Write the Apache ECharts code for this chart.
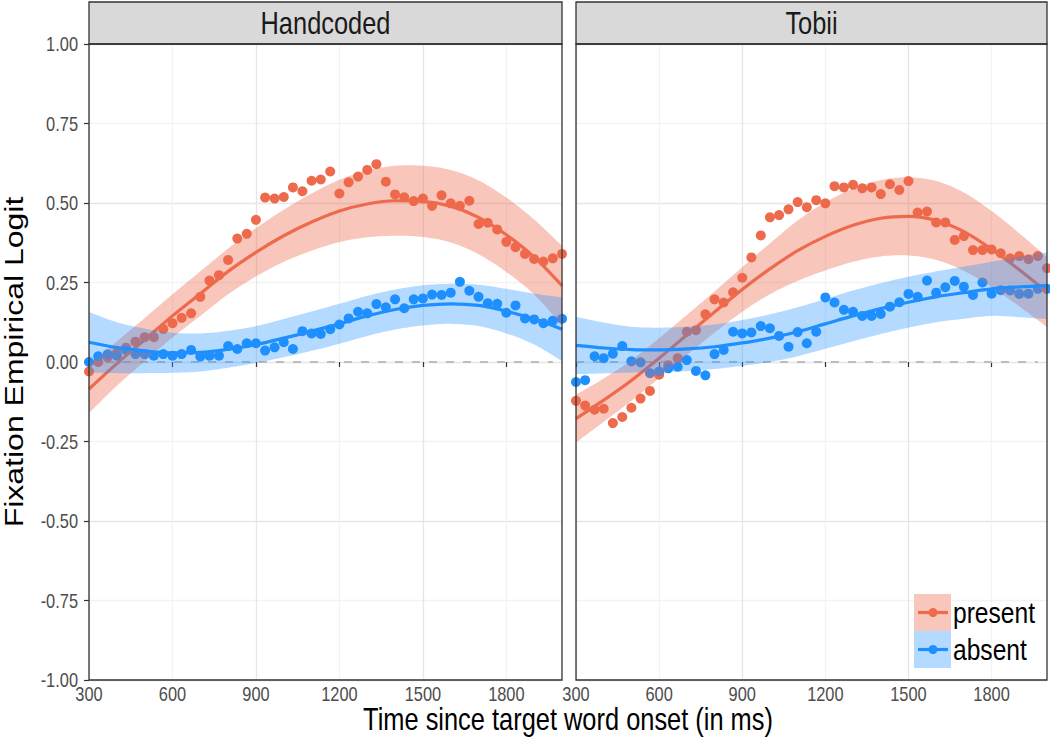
<!DOCTYPE html>
<html>
<head>
<meta charset="utf-8">
<script src="https://cdn.jsdelivr.net/npm/echarts@6/dist/echarts.min.js"></script>
<style>
html,body{margin:0;padding:0;background:#fff;}
#chart{width:1050px;height:743px;}
</style>
</head>
<body>
<div id="chart"></div>
<script>
// ---------------- data ----------------
const panels = ['Handcoded', 'Tobii'];
const groups = ['present', 'absent'];
const xTicks = [300, 600, 900, 1200, 1500, 1800];
const yTicks = [-1, -0.75, -0.5, -0.25, 0, 0.25, 0.5, 0.75, 1];

const xTime = [300, 333, 367, 400, 433, 467, 500, 533, 567, 600, 633, 667, 700, 733, 767, 800, 833, 867, 900, 933, 967, 1000,
  1033, 1067, 1100, 1133, 1167, 1200, 1233, 1267, 1300, 1333, 1367, 1400, 1433, 1467, 1500, 1533, 1567, 1600,
  1633, 1667, 1700, 1733, 1767, 1800, 1833, 1867, 1900, 1933, 1967, 2000];

const presentHand = [-0.03, 0.0, 0.015, 0.028, 0.045, 0.064, 0.078, 0.078, 0.104, 0.122,
  0.139, 0.153, 0.205, 0.256, 0.273, 0.321, 0.388, 0.403, 0.447, 0.517,
  0.514, 0.519, 0.549, 0.537, 0.57, 0.574, 0.599, 0.53, 0.565, 0.583,
  0.604, 0.622, 0.567, 0.527, 0.518, 0.506, 0.514, 0.491, 0.524, 0.499,
  0.491, 0.507, 0.434, 0.438, 0.417, 0.378, 0.361, 0.34, 0.324, 0.316,
  0.326, 0.34];
const absentHand = [0.0, 0.018, 0.024, 0.02, 0.038, 0.025, 0.025, 0.02, 0.025, 0.02,
  0.025, 0.038, 0.017, 0.02, 0.02, 0.05, 0.041, 0.059, 0.059, 0.036,
  0.046, 0.062, 0.041, 0.097, 0.09, 0.088, 0.103, 0.118, 0.137, 0.158,
  0.153, 0.182, 0.172, 0.197, 0.169, 0.197, 0.2, 0.212, 0.211, 0.218,
  0.252, 0.224, 0.205, 0.185, 0.183, 0.155, 0.178, 0.137, 0.134, 0.122,
  0.13, 0.136];
const presentTobii = [-0.122, -0.137, -0.15, -0.147, -0.192, -0.173, -0.144, -0.115, -0.091, -0.04,
  -0.01, 0.012, 0.095, 0.1, 0.15, 0.197, 0.187, 0.219, 0.265, 0.329,
  0.398, 0.455, 0.462, 0.48, 0.503, 0.487, 0.509, 0.499, 0.553, 0.549,
  0.557, 0.546, 0.549, 0.528, 0.559, 0.541, 0.569, 0.47, 0.473, 0.439,
  0.439, 0.384, 0.396, 0.352, 0.352, 0.354, 0.342, 0.326, 0.333, 0.323,
  0.333, 0.295];
const absentTobii = [-0.063, -0.057, 0.018, 0.012, 0.026, 0.05, 0.002, -0.001, -0.035, -0.03,
  -0.02, -0.015, 0.006, -0.028, -0.042, 0.025, 0.038, 0.095, 0.09, 0.093,
  0.113, 0.106, 0.082, 0.048, 0.094, 0.059, 0.095, 0.203, 0.187, 0.164,
  0.158, 0.145, 0.145, 0.151, 0.174, 0.188, 0.214, 0.205, 0.256, 0.218,
  0.235, 0.255, 0.237, 0.211, 0.25, 0.215, 0.226, 0.225, 0.214, 0.215,
  0.23, 0.23];

// smooth fits (value, lower, upper) sampled every 100 ms
const fitX = [300, 400, 500, 600, 700, 800, 900, 1000, 1100, 1200, 1300, 1400, 1500, 1600, 1700, 1800, 1900, 2000];
const presentHandFit = [-0.085, -0.005, 0.07, 0.145, 0.215, 0.285, 0.345, 0.397, 0.44, 0.475, 0.497, 0.507, 0.505, 0.49, 0.455, 0.40, 0.33, 0.24];
const presentHandLo  = [-0.16, -0.075, 0.002, 0.077, 0.145, 0.213, 0.269, 0.315, 0.35, 0.377, 0.392, 0.397, 0.393, 0.376, 0.339, 0.283, 0.212, 0.115];
const presentHandHi  = [-0.01, 0.065, 0.138, 0.213, 0.285, 0.357, 0.421, 0.479, 0.53, 0.573, 0.602, 0.617, 0.617, 0.604, 0.571, 0.517, 0.448, 0.365];
const absentHandFit  = [0.062, 0.045, 0.035, 0.029, 0.030, 0.040, 0.055, 0.075, 0.097, 0.12, 0.145, 0.165, 0.178, 0.183, 0.178, 0.16, 0.135, 0.103];
const absentHandLo   = [-0.033, -0.035, -0.035, -0.034, -0.03, -0.018, -0.003, 0.015, 0.035, 0.057, 0.082, 0.102, 0.115, 0.12, 0.113, 0.09, 0.055, 0.003];
const absentHandHi   = [0.157, 0.125, 0.105, 0.092, 0.09, 0.098, 0.113, 0.135, 0.159, 0.183, 0.208, 0.228, 0.241, 0.246, 0.243, 0.23, 0.215, 0.203];
const presentTobiiFit = [-0.178, -0.12, -0.058, 0.012, 0.085, 0.157, 0.228, 0.293, 0.35, 0.395, 0.43, 0.452, 0.458, 0.445, 0.41, 0.355, 0.29, 0.22];
const presentTobiiLo  = [-0.253, -0.188, -0.122, -0.051, 0.022, 0.092, 0.158, 0.213, 0.255, 0.288, 0.315, 0.332, 0.335, 0.321, 0.287, 0.235, 0.175, 0.11];
const presentTobiiHi  = [-0.103, -0.052, 0.006, 0.075, 0.148, 0.222, 0.298, 0.373, 0.445, 0.502, 0.545, 0.572, 0.581, 0.569, 0.533, 0.475, 0.405, 0.33];
const absentTobiiFit  = [0.052, 0.044, 0.039, 0.038, 0.041, 0.048, 0.06, 0.075, 0.095, 0.12, 0.145, 0.168, 0.188, 0.205, 0.218, 0.23, 0.236, 0.24];
const absentTobiiLo   = [-0.038, -0.036, -0.033, -0.032, -0.029, -0.022, -0.012, 0.0, 0.018, 0.042, 0.065, 0.088, 0.108, 0.125, 0.136, 0.145, 0.141, 0.135];
const absentTobiiHi   = [0.142, 0.124, 0.111, 0.108, 0.111, 0.118, 0.132, 0.15, 0.172, 0.198, 0.225, 0.248, 0.268, 0.285, 0.3, 0.315, 0.331, 0.345];

const refLineX = [300, 1967];
const refLineY = [0, 0];

// ---------------- styling ----------------
const FONT = "'Liberation Sans', Arial, Helvetica, sans-serif";
const SQUEEZE = 0.82;
const RED = '#EE6A4C', BLUE = '#1E8FFF';
const RED_BAND = 'rgba(238,106,76,0.38)', BLUE_BAND = 'rgba(30,143,255,0.33)';
const grids = [
  {left: 89, top: 44, width: 473, height: 636},
  {left: 576, top: 44, width: 471, height: 636}
];

const chart = echarts.init(document.getElementById('chart'), null, {renderer: 'svg'});

function xAxisFor(i) {
  return {
    type: 'value', gridIndex: i, min: 300, max: 2000, interval: 150,
    axisLine: {show: false},
    axisTick: {show: true, length: 5, customValues: xTicks, lineStyle: {color: '#333333', width: 1.2}},
    axisLabel: {show: false},
    splitLine: {show: true, lineStyle: {color: ['#E6E6E6', '#F3F3F3'], width: 1.3}}
  };
}
function yAxisFor(i) {
  return {
    type: 'value', gridIndex: i, min: -1, max: 1, interval: 0.125,
    axisLine: {show: false},
    axisTick: {show: i === 0, length: 5, customValues: yTicks, lineStyle: {color: '#333333', width: 1.2}},
    axisLabel: {show: false},
    splitLine: {show: true, lineStyle: {color: ['#E6E6E6', '#F3F3F3'], width: 1.3}}
  };
}

function pairs(xs, ys) { return xs.map((x, k) => [x, ys[k]]); }

// Catmull-Rom smoothing of already-projected pixel points (rendering only)
function catmull(pts, steps) {
  const out = [];
  for (let k = 0; k < pts.length - 1; k++) {
    const p0 = pts[k - 1] || pts[k], p1 = pts[k], p2 = pts[k + 1], p3 = pts[k + 2] || pts[k + 1];
    for (let s = 0; s < steps; s++) {
      const t = s / steps, t2 = t * t, t3 = t2 * t;
      const f = j => 0.5 * (2 * p1[j] + (-p0[j] + p2[j]) * t + (2 * p0[j] - 5 * p1[j] + 4 * p2[j] - p3[j]) * t2 + (-p0[j] + 3 * p1[j] - 3 * p2[j] + p3[j]) * t3);
      out.push([f(0), f(1)]);
    }
  }
  out.push(pts[pts.length - 1]);
  return out;
}

function bandSeries(i, lo, hi, color, z) {
  return {
    type: 'custom', xAxisIndex: i, yAxisIndex: i, clip: true, silent: true, z: z,
    data: fitX.map((x, k) => [x, lo[k], hi[k]]),
    encode: {x: 0, y: [1, 2]},
    renderItem: function (params, api) {
      if (params.dataIndex !== 0) return null;
      const up = fitX.map((x, k) => api.coord([x, hi[k]]));
      const dn = fitX.map((x, k) => api.coord([x, lo[k]]));
      const pts = catmull(up, 10).concat(catmull(dn, 10).reverse());
      return {type: 'polygon', shape: {points: pts}, style: {fill: color}};
    }
  };
}
function fitSeries(i, fit, color, z) {
  return {type: 'line', xAxisIndex: i, yAxisIndex: i, data: pairs(fitX, fit), smooth: 0.33, symbol: 'none',
    lineStyle: {color: color, width: 3.2}, z: z, silent: true};
}
function pointSeries(i, vals, color) {
  return {type: 'scatter', xAxisIndex: i, yAxisIndex: i, data: pairs(xTime, vals), symbol: 'circle', symbolSize: 10,
    itemStyle: {color: color, opacity: 1}, z: 2, silent: true};
}
function refSeries(i) {
  return {type: 'line', xAxisIndex: i, yAxisIndex: i, data: pairs(refLineX, refLineY), symbol: 'none',
    lineStyle: {color: '#BDBDBD', width: 2, type: [8, 9]}, z: 1, silent: true};
}

const panelData = [
  {p: presentHand, a: absentHand, pf: presentHandFit, pl: presentHandLo, ph: presentHandHi, af: absentHandFit, al: absentHandLo, ah: absentHandHi},
  {p: presentTobii, a: absentTobii, pf: presentTobiiFit, pl: presentTobiiLo, ph: presentTobiiHi, af: absentTobiiFit, al: absentTobiiLo, ah: absentTobiiHi}
];

const series = [];
panelData.forEach((d, i) => {
  series.push(refSeries(i));
  series.push(pointSeries(i, d.p, RED));
  series.push(pointSeries(i, d.a, BLUE));
  series.push(bandSeries(i, d.pl, d.ph, RED_BAND, 3));
  series.push(fitSeries(i, d.pf, RED, 4));
  series.push(bandSeries(i, d.al, d.ah, BLUE_BAND, 5));
  series.push(fitSeries(i, d.af, BLUE, 6));
});

chart.setOption({
  animation: false,
  backgroundColor: '#FFFFFF',
  textStyle: {fontFamily: FONT},
  grid: grids.map(g => Object.assign({containLabel: false}, g)),
  xAxis: [xAxisFor(0), xAxisFor(1)],
  yAxis: [yAxisFor(0), yAxisFor(1)],
  series: series
});

// strips, borders, titles, legend, tick labels (positions from the axes' own scales)
const graphic = [];
grids.forEach((g, i) => {
  graphic.push({type: 'rect', z: 100, shape: {x: g.left, y: 2, width: g.width, height: 42},
    style: {fill: '#D9D9D9', stroke: '#333333', lineWidth: 1.3}});
  graphic.push({type: 'text', z: 101, x: g.left + g.width / 2, y: 23, scaleX: SQUEEZE,
    style: {text: panels[i], fontSize: 31, fontFamily: FONT, fill: '#1A1A1A', textAlign: 'center', textVerticalAlign: 'middle'}});
  graphic.push({type: 'rect', z: 100, shape: {x: g.left, y: g.top, width: g.width, height: g.height},
    style: {fill: 'none', stroke: '#333333', lineWidth: 1.3}});
  const yBase = g.top + g.height;
  xTicks.forEach(v => {
    const px = chart.convertToPixel({xAxisIndex: i}, v);
    graphic.push({type: 'text', z: 101, x: px, y: yBase + 14, scaleX: SQUEEZE,
      style: {text: String(v), fontSize: 20, fontFamily: FONT, fill: '#4D4D4D', textAlign: 'center', textVerticalAlign: 'middle'}});
  });
});
yTicks.forEach(v => {
  const py = chart.convertToPixel({yAxisIndex: 0}, v);
  graphic.push({type: 'text', z: 101, x: 78, y: py, scaleX: SQUEEZE,
    style: {text: v.toFixed(2), fontSize: 20, fontFamily: FONT, fill: '#4D4D4D', textAlign: 'right', textVerticalAlign: 'middle'}});
});
graphic.push({type: 'text', z: 101, x: 568, y: 719, scaleX: SQUEEZE,
  style: {text: 'Time since target word onset (in ms)', fontSize: 31, fontFamily: FONT, fill: '#000', textAlign: 'center', textVerticalAlign: 'middle'}});
graphic.push({type: 'text', z: 101, x: 14, y: 362, rotation: Math.PI / 2, scaleY: SQUEEZE,
  style: {text: 'Fixation Empirical Logit', fontSize: 32, fontFamily: FONT, fill: '#000', textAlign: 'center', textVerticalAlign: 'middle'}});

const legendItems = [
  {label: groups[0], color: RED, band: RED_BAND, y: 594},
  {label: groups[1], color: BLUE, band: BLUE_BAND, y: 631}
];
legendItems.forEach(it => {
  graphic.push({type: 'rect', z: 90, shape: {x: 914, y: it.y, width: 37, height: 37}, style: {fill: '#FFFFFF'}});
  graphic.push({type: 'rect', z: 91, shape: {x: 914, y: it.y, width: 37, height: 37}, style: {fill: it.band}});
  graphic.push({type: 'line', z: 92, shape: {x1: 918, y1: it.y + 18.5, x2: 948, y2: it.y + 18.5},
    style: {stroke: it.color, lineWidth: 3.2}});
  graphic.push({type: 'circle', z: 93, shape: {cx: 933, cy: it.y + 18.5, r: 4.5}, style: {fill: it.color}});
  graphic.push({type: 'text', z: 94, x: 953, y: it.y + 18.5, scaleX: SQUEEZE,
    style: {text: it.label, fontSize: 30, fontFamily: FONT, fill: '#000', textAlign: 'left', textVerticalAlign: 'middle'}});
});

chart.setOption({graphic: graphic});
</script>
</body>
</html>
